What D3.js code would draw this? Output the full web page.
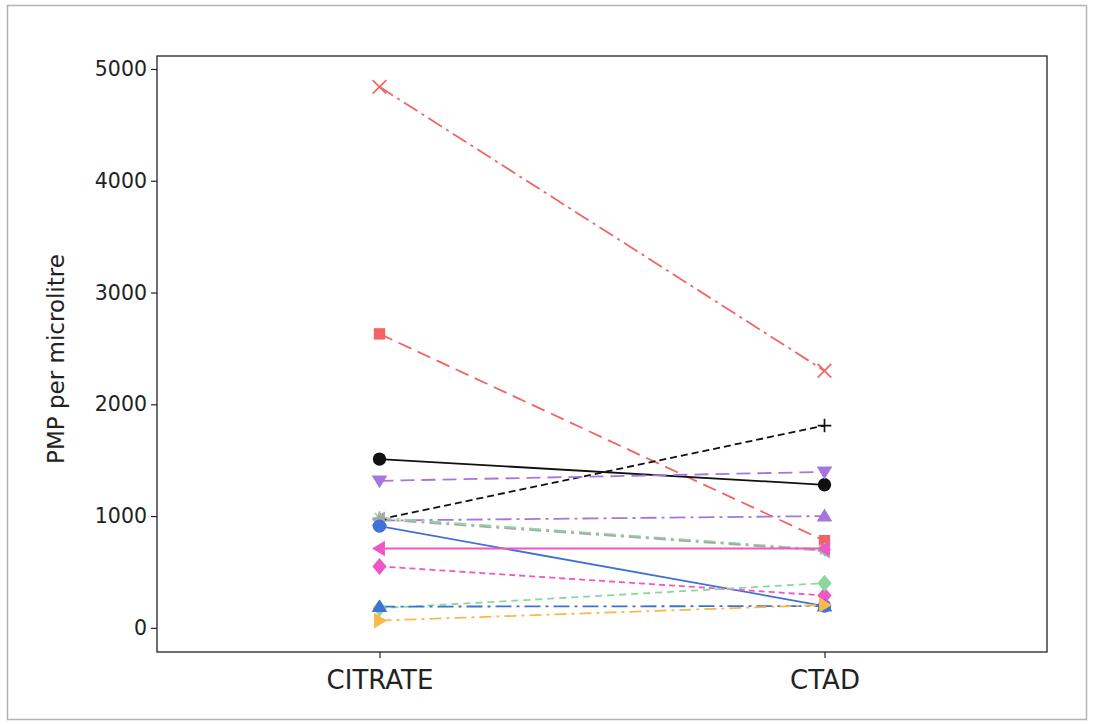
<!DOCTYPE html>
<html>
<head>
<meta charset="utf-8">
<script src="https://cdn.jsdelivr.net/npm/d3@7"></script>
<style>
  html, body { margin: 0; padding: 0; background: #fff; }
  svg { display: block; }
  text { font-family: "DejaVu Sans", "Open Sans", sans-serif; fill: #222; }
</style>
</head>
<body>
<svg id="chart" width="1094" height="725"></svg>
<script>
// Anticoagulant groups on the x axis
const categories = ["CITRATE", "CTAD"];

// One subject per entry: PMP count in each tube, [CITRATE, CTAD]
const citrateValues = [4840, 2630, 1510, 970, 1315, 960, 985, 970, 910, 710, 550, 175, 190, 65];
const ctadValues    = [2300,  780, 1280, 1810, 1395, 1000, 700, 690, 195, 710, 290, 400, 195, 205];

// Drawing style for each subject's line and markers
const seriesColors  = ["#f26464", "#f26464", "#111111", "#111111", "#a477dc", "#a477dc", "#8ad89c", "#a8a8a8",
                       "#3f72d6", "#f255c6", "#f255c6", "#8ad89c", "#3f72d6", "#f8b84a"];
const seriesSymbols = ["cross", "square", "circle", "plus", "triDown", "triUp", "asterisk", "triLeft",
                       "circle", "triLeft", "diamond", "diamond", "triUp", "triRight"];
const seriesDashes  = ["16,5,3,5", "14,7", "none", "7,4", "14,7", "16,5,3,5", "12,5,3,5", "12,5,3,5",
                       "none", "none", "6,4", "7,5", "16,5,3,5", "12,5,3,5"];

const yTicks = [0, 1000, 2000, 3000, 4000, 5000];

const svg = d3.select("#chart");
const W = 1094, H = 725;
const frame = { left: 157, top: 56, right: 1047, bottom: 652 };

// Outer figure border
svg.append("rect")
  .attr("x", 7.5).attr("y", 5.5)
  .attr("width", W - 15).attr("height", H - 11)
  .attr("fill", "none").attr("stroke", "#b4b4b4").attr("stroke-width", 1.5);

const x = d3.scalePoint()
  .domain(categories)
  .range([frame.left, frame.right])
  .padding(0.5);

const y = d3.scaleLinear()
  .domain([-216, 5116])
  .range([frame.bottom, frame.top]);

// Y axis
const yAxis = d3.axisLeft(y).tickValues(yTicks).tickSize(6).tickPadding(4).tickFormat(d3.format("d"));
const gy = svg.append("g").attr("transform", `translate(${frame.left},0)`).call(yAxis);
gy.select(".domain").remove();
gy.selectAll(".tick line").attr("stroke", "#222").attr("stroke-width", 1.2);
gy.selectAll(".tick text").style("font-size", "20.5px").style("fill", "#222");

// X axis
const xAxis = d3.axisBottom(x).tickSize(6).tickPadding(13);
const gx = svg.append("g").attr("transform", `translate(0,${frame.bottom})`).call(xAxis);
gx.select(".domain").remove();
gx.selectAll(".tick line").attr("stroke", "#222").attr("stroke-width", 1.2);
gx.selectAll(".tick text").style("font-size", "26px").style("fill", "#222");

// Y axis title
svg.append("text")
  .attr("transform", `translate(64,359) rotate(-90)`)
  .attr("text-anchor", "middle")
  .style("font-size", "23px")
  .text("PMP per microlitre");

// Marker shapes
const s = 6.8;
function symbolPath(name) {
  switch (name) {
    case "circle": return d3.symbol(d3.symbolCircle, 140)();
    case "square": return d3.symbol(d3.symbolSquare, 130)();
    case "diamond": return `M0,${-s * 1.25}L${s * 1.05},0L0,${s * 1.25}L${-s * 1.05},0Z`;
    case "triUp": return `M0,${-s * 1.1}L${s * 1.15},${s * 0.8}L${-s * 1.15},${s * 0.8}Z`;
    case "triDown": return `M0,${s * 1.1}L${s * 1.15},${-s * 0.8}L${-s * 1.15},${-s * 0.8}Z`;
    case "triLeft": return `M${-s * 1.1},0L${s * 0.8},${-s * 1.15}L${s * 0.8},${s * 1.15}Z`;
    case "triRight": return `M${s * 1.1},0L${-s * 0.8},${-s * 1.15}L${-s * 0.8},${s * 1.15}Z`;
    case "cross": return `M${-s},${-s}L${s},${s}M${s},${-s}L${-s},${s}`;
    case "plus": return `M${-s},0L${s},0M0,${-s}L0,${s}`;
    case "asterisk": return `M${-s},0L${s},0M0,${-s}L0,${s}M${-s * 0.7},${-s * 0.7}L${s * 0.7},${s * 0.7}M${s * 0.7},${-s * 0.7}L${-s * 0.7},${s * 0.7}`;
  }
}
const strokeOnly = new Set(["cross", "plus", "asterisk"]);

const plotG = svg.append("g");
const series = citrateValues.map((v, i) => ({
  values: [v, ctadValues[i]],
  color: seriesColors[i], symbol: seriesSymbols[i], dash: seriesDashes[i]
}));

const line = d3.line().x((d, j) => x(categories[j])).y(d => y(d));

// Subject lines
plotG.selectAll("path.subject")
  .data(series)
  .join("path")
  .attr("class", "subject")
  .attr("d", d => line(d.values))
  .attr("fill", "none")
  .attr("stroke", d => d.color)
  .attr("stroke-width", 1.8)
  .attr("stroke-dasharray", d => d.dash);

// Markers at each tube
series.forEach(d => {
  d.values.forEach((v, j) => {
    const p = plotG.append("path")
      .attr("transform", `translate(${x(categories[j])},${y(v)})`)
      .attr("d", symbolPath(d.symbol));
    if (strokeOnly.has(d.symbol)) {
      p.attr("fill", "none").attr("stroke", d.color).attr("stroke-width", 1.7);
    } else {
      p.attr("fill", d.color).attr("stroke", "none");
    }
  });
});

// Plot frame
svg.append("rect")
  .attr("x", frame.left).attr("y", frame.top)
  .attr("width", frame.right - frame.left).attr("height", frame.bottom - frame.top)
  .attr("fill", "none").attr("stroke", "#222").attr("stroke-width", 1.3);
</script>
</body>
</html>
